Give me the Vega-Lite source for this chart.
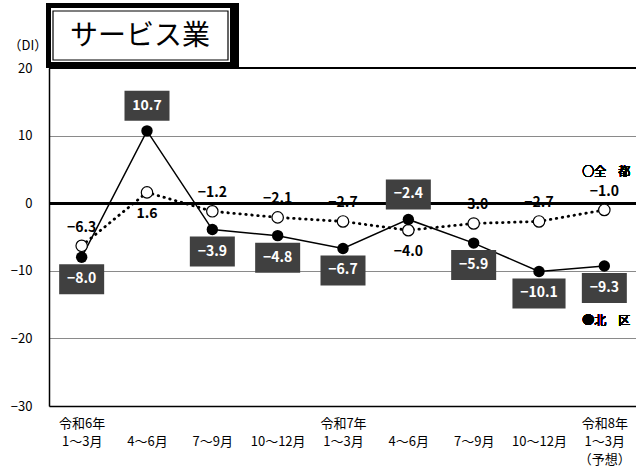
{
  "$schema": "https://vega.github.io/schema/vega-lite/v6.json",
  "padding": {"left": 8, "top": 3, "right": 0, "bottom": 0},
  "background": "white",
  "config": {"view": {"stroke": null}, "font": "Noto Sans CJK JP"},
  "spacing": 0,
  "bounds": "flush",
  "datasets": {
    "box": [
      {"part": "outer", "x": 0, "x2": 190, "y": 0, "y2": 65},
      {"part": "inner", "x": 5, "x2": 181, "y": 5, "y2": 59}
    ],
    "line": [{"part": "line", "x": 7, "x2": 179, "y": 8, "y2": 57}],
    "title": [{"t": "サービス業", "x": 94, "y": 34}],
    "di": [
      {"q": 1, "series": "北区", "value": -8.0},
      {"q": 2, "series": "北区", "value": 10.7},
      {"q": 3, "series": "北区", "value": -3.9},
      {"q": 4, "series": "北区", "value": -4.8},
      {"q": 5, "series": "北区", "value": -6.7},
      {"q": 6, "series": "北区", "value": -2.4},
      {"q": 7, "series": "北区", "value": -5.9},
      {"q": 8, "series": "北区", "value": -10.1},
      {"q": 9, "series": "北区", "value": -9.3},
      {"q": 1, "series": "全都", "value": -6.3},
      {"q": 2, "series": "全都", "value": 1.6},
      {"q": 3, "series": "全都", "value": -1.2},
      {"q": 4, "series": "全都", "value": -2.1},
      {"q": 5, "series": "全都", "value": -2.7},
      {"q": 6, "series": "全都", "value": -4.0},
      {"q": 7, "series": "全都", "value": -3.0},
      {"q": 8, "series": "全都", "value": -2.7},
      {"q": 9, "series": "全都", "value": -1.0}
    ]
  },
  "vconcat": [
    {
      "width": 190,
      "height": 65,
      "encoding": {
        "x": {"field": "x", "type": "quantitative", "scale": {"domain": [0, 190]}, "axis": null},
        "y": {"field": "y", "type": "quantitative", "scale": {"domain": [65, 0]}, "axis": null}
      },
      "layer": [
        {
          "data": {"name": "box"},
          "mark": {"type": "rect", "xOffset": -3},
          "encoding": {
            "x2": {"field": "x2"}, "y2": {"field": "y2"},
            "color": {"field": "part", "type": "nominal", "scale": {"domain": ["outer", "inner"], "range": ["black", "white"]}, "legend": null}
          }
        },
        {
          "data": {"name": "line"},
          "mark": {"type": "rect", "xOffset": -3, "fill": null, "stroke": "black", "strokeWidth": 1.2},
          "encoding": {"x2": {"field": "x2"}, "y2": {"field": "y2"}}
        },
        {
          "data": {"name": "title"},
          "mark": {"type": "text", "xOffset": -3, "fontSize": 28, "font": "Noto Sans CJK JP", "color": "black"},
          "encoding": {"text": {"field": "t"}}
        }
      ]
    },
    {
      "width": 588,
      "height": 338,
      "data": {"name": "di"},
      "encoding": {
        "x": {
          "field": "q", "type": "ordinal",
          "scale": {"type": "point", "padding": 0.5},
          "axis": {
            "title": null, "labelAngle": 0, "ticks": false, "domainColor": "black", "domainWidth": 1.5,
            "labelFontSize": 13, "labelColor": "black", "labelBaseline": "top", "labelPadding": 11, "labelLineHeight": 18,
            "labelExpr": "[['令和6年','1～3月'],[' ','4～6月'],[' ','7～9月'],[' ','10～12月'],['令和7年','1～3月'],[' ','4～6月'],[' ','7～9月'],[' ','10～12月'],['令和8年','1～3月','（予想）']][datum.value-1]"
          }
        },
        "y": {
          "field": "value", "type": "quantitative",
          "scale": {"domain": [-30, 20], "nice": false, "zero": false},
          "axis": {
            "values": [-30, -20, -10, 0, 10, 20], "grid": true, "gridColor": "#8a8a8a", "gridWidth": 1,
            "ticks": false, "domainColor": "black", "domainWidth": 1.5,
            "labelFontSize": 13, "labelColor": "black", "labelPadding": 17,
            "title": "（DI）", "titleAngle": 0, "titleAlign": "left", "titleBaseline": "middle",
            "titleX": -41, "titleY": -23, "titleFontSize": 13, "titleFontWeight": "normal", "titleColor": "black"
          }
        }
      },
      "layer": [
        {"mark": {"type": "rule", "color": "black", "strokeWidth": 1.5}, "encoding": {"y": {"datum": 20}, "x": null}},
        {"mark": {"type": "rule", "color": "black", "strokeWidth": 2.5}, "encoding": {"y": {"datum": 0}, "x": null}},
        {
          "transform": [{"filter": "datum.series === '全都'"}],
          "mark": {"type": "line", "color": "black", "strokeWidth": 2.8, "strokeDash": [0.5, 5.5], "strokeCap": "round"}
        },
        {
          "transform": [{"filter": "datum.series === '北区'"}],
          "mark": {"type": "line", "color": "black", "strokeWidth": 1.5}
        },
        {
          "transform": [{"filter": "datum.series === '全都'"}],
          "mark": {"type": "point", "shape": "circle", "filled": true, "fill": "white", "stroke": "black", "strokeWidth": 1.2, "size": 130, "opacity": 1}
        },
        {
          "transform": [{"filter": "datum.series === '北区'"}],
          "mark": {"type": "point", "shape": "circle", "filled": true, "fill": "black", "size": 130, "opacity": 1}
        },
        {
          "transform": [{"filter": "datum.series === '全都' && datum.q !== 2 && datum.q !== 6"}],
          "mark": {"type": "text", "fontSize": 14, "fontWeight": "bold", "color": "black", "yOffset": -18},
          "encoding": {"text": {"field": "value", "type": "quantitative", "format": ".1f"}}
        },
        {
          "transform": [{"filter": "datum.series === '全都' && (datum.q === 2 || datum.q === 6)"}],
          "mark": {"type": "text", "fontSize": 14, "fontWeight": "bold", "color": "black", "yOffset": 22},
          "encoding": {"text": {"field": "value", "type": "quantitative", "format": ".1f"}}
        },
        {
          "transform": [{"filter": "datum.series === '北区' && (datum.q === 2 || datum.q === 6)"}],
          "mark": {"type": "point", "filled": true, "fill": "#404040", "opacity": 1, "size": 900, "yOffset": -25, "shape": "M-1.5,-1L1.5,-1L1.5,1L-1.5,1Z"}
        },
        {
          "transform": [{"filter": "datum.series === '北区' && datum.q !== 2 && datum.q !== 6"}],
          "mark": {"type": "point", "filled": true, "fill": "#404040", "opacity": 1, "size": 900, "yOffset": 22},
          "encoding": {"shape": {"condition": {"test": "datum.value < -10", "value": "M-1.77,-1L1.77,-1L1.77,1L-1.77,1Z"}, "value": "M-1.5,-1L1.5,-1L1.5,1L-1.5,1Z"}}
        },
        {
          "transform": [{"filter": "datum.series === '北区' && (datum.q === 2 || datum.q === 6)"}],
          "mark": {"type": "text", "fontSize": 14, "fontWeight": "bold", "color": "white", "yOffset": -25},
          "encoding": {"text": {"field": "value", "type": "quantitative", "format": ".1f"}}
        },
        {
          "transform": [{"filter": "datum.series === '北区' && datum.q !== 2 && datum.q !== 6"}],
          "mark": {"type": "text", "fontSize": 14, "fontWeight": "bold", "color": "white", "yOffset": 22},
          "encoding": {"text": {"field": "value", "type": "quantitative", "format": ".1f"}}
        },
        {
          "mark": {"type": "text", "fontSize": 12, "fontWeight": "normal", "font": "Noto Sans CJK JP", "color": "black", "xOffset": 2},
          "encoding": {"x": {"datum": 9}, "y": {"datum": 4.6}, "text": {"value": "○全　都"}}
        },
        {
          "mark": {"type": "text", "fontSize": 12, "fontWeight": "normal", "font": "Noto Sans CJK JP", "color": "black", "xOffset": 2},
          "encoding": {"x": {"datum": 9}, "y": {"datum": -17.4}, "text": {"value": "●北　区"}}
        }
      ]
    }
  ]
}
